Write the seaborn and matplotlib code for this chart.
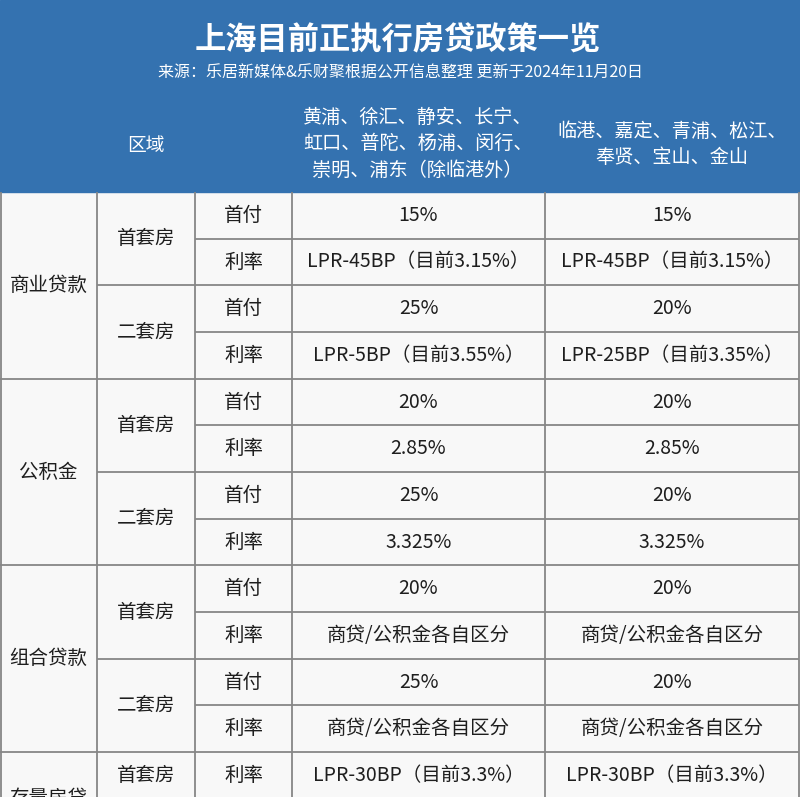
import matplotlib
matplotlib.use("Agg")
import matplotlib.pyplot as plt
import seaborn as sns
from matplotlib.patches import Rectangle

sns.set_theme(style="white")
plt.rcParams['font.family'] = ['Noto Sans CJK SC', 'DejaVu Sans']

# ---- data ----
title = "上海目前正执行房贷政策一览"
subtitle = "来源：乐居新媒体&乐财聚根据公开信息整理 更新于2024年11月20日"
header_region = "区域"
header_a = ["黄浦、徐汇、静安、长宁、", "虹口、普陀、杨浦、闵行、", "崇明、浦东（除临港外）"]
header_b = ["临港、嘉定、青浦、松江、", "奉贤、宝山、金山"]

groups = ["商业贷款", "公积金", "组合贷款", "存量房贷"]
group_spans = [4, 4, 4, 2]
subs = ["首套房", "二套房", "首套房", "二套房", "首套房", "二套房", "首套房"]
sub_spans = [2, 2, 2, 2, 2, 2, 1]
items = ["首付", "利率", "首付", "利率", "首付", "利率", "首付", "利率",
         "首付", "利率", "首付", "利率", "利率"]
values_a = ["15%", "LPR-45BP（目前3.15%）", "25%", "LPR-5BP（目前3.55%）",
            "20%", "2.85%", "25%", "3.325%",
            "20%", "商贷/公积金各自区分", "25%", "商贷/公积金各自区分",
            "LPR-30BP（目前3.3%）"]
values_b = ["15%", "LPR-45BP（目前3.15%）", "20%", "LPR-25BP（目前3.35%）",
            "20%", "2.85%", "20%", "3.325%",
            "20%", "商贷/公积金各自区分", "20%", "商贷/公积金各自区分",
            "LPR-30BP（目前3.3%）"]

# ---- layout ----
W, H = 800, 797
col_edges = [0, 97, 195, 292, 545, 799]
header_h = 192
row_h = 46.67
blue = "#3472b0"
line_c = "#878787"
txt_c = "#1e1e1e"
fs = 14

fig = plt.figure(figsize=(W / 100, H / 100), dpi=100)
ax = fig.add_axes([0, 0, 1, 1])
ax.set_xlim(0, W)
ax.set_ylim(H, 0)
ax.axis("off")

# background
ax.add_patch(Rectangle((0, header_h), W, H - header_h, color="#f8f8f8", zorder=0))
ax.add_patch(Rectangle((0, 0), W, header_h, color=blue, zorder=1))

# header text
ax.text(398, 40, title, color="white", fontsize=22.5, fontweight="bold",
        ha="center", va="center", zorder=3)
ax.text(400, 73, subtitle, color="white", fontsize=11.5,
        ha="center", va="center", zorder=3)
ax.text((col_edges[0] + col_edges[3]) / 2, 145, header_region, color="white",
        fontsize=13.5, ha="center", va="center", zorder=3)
for i, s in enumerate(header_a):
    ax.text((col_edges[3] + col_edges[4]) / 2 - 1, 117 + i * 26.5, s, color="white",
            fontsize=13.8, ha="center", va="center", zorder=3)
for i, s in enumerate(header_b):
    ax.text((col_edges[4] + col_edges[5]) / 2, 131 + i * 26.5, s, color="white",
            fontsize=13.8, ha="center", va="center", zorder=3)

lw = 1.3
def hline(x0, x1, y):
    ax.plot([x0, x1], [y, y], color=line_c, lw=lw, zorder=2, solid_capstyle="butt")

def vline(x, y0, y1):
    ax.plot([x, x], [y0, y1], color=line_c, lw=lw, zorder=2, solid_capstyle="butt")

# vertical lines
for x in col_edges:
    vline(x + (0.8 if x == 0 else 0), header_h, H + 5)

# group column
r = 0
for g, span in zip(groups, group_spans):
    y0 = header_h + r * row_h
    y1 = y0 + span * row_h
    ax.text((col_edges[0] + col_edges[1]) / 2, (y0 + y1) / 2, g, color=txt_c,
            fontsize=fs, ha="center", va="center", zorder=3)
    hline(col_edges[0], col_edges[1], y1)
    r += span

# sub column
r = 0
for s, span in zip(subs, sub_spans):
    y0 = header_h + r * row_h
    y1 = y0 + span * row_h
    ax.text((col_edges[1] + col_edges[2]) / 2, (y0 + y1) / 2, s, color=txt_c,
            fontsize=fs, ha="center", va="center", zorder=3)
    hline(col_edges[1], col_edges[2], y1)
    r += span

# item and value columns
for i, (it, va_, vb_) in enumerate(zip(items, values_a, values_b)):
    y0 = header_h + i * row_h
    yc = y0 + row_h / 2
    ax.text((col_edges[2] + col_edges[3]) / 2, yc, it, color=txt_c,
            fontsize=fs, ha="center", va="center", zorder=3)
    ax.text((col_edges[3] + col_edges[4]) / 2, yc, va_, color=txt_c,
            fontsize=fs, ha="center", va="center", zorder=3)
    ax.text((col_edges[4] + col_edges[5]) / 2, yc, vb_, color=txt_c,
            fontsize=fs, ha="center", va="center", zorder=3)
    hline(col_edges[2], col_edges[5], y0 + row_h)

fig.savefig("out.png", dpi=100)
